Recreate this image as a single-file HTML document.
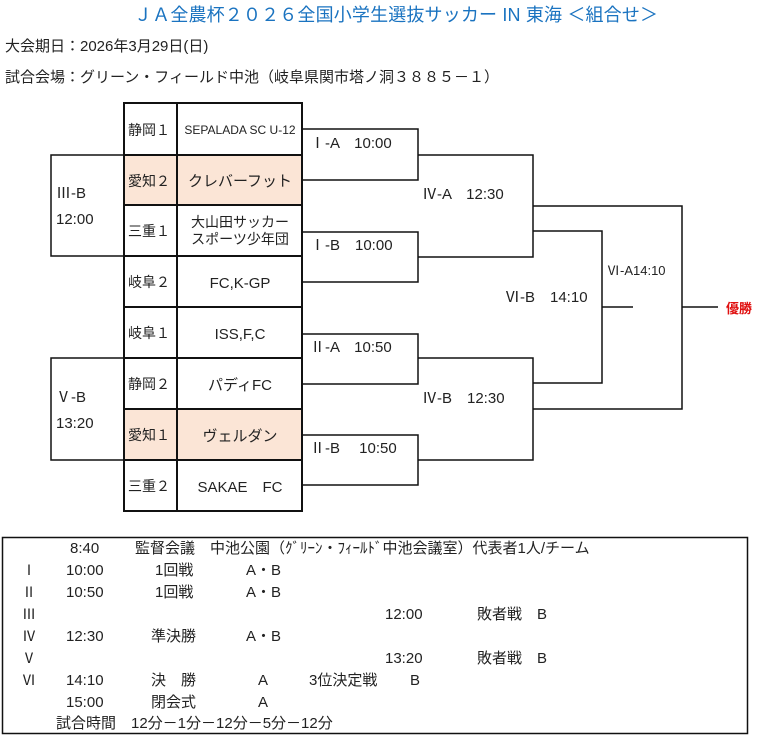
<!DOCTYPE html>
<html><head><meta charset="utf-8"><style>
body{margin:0;background:#fff;}
svg text{font-family:"Liberation Sans","Noto Sans CJK JP",sans-serif;}
</style></head><body>
<svg width="757" height="737" xmlns="http://www.w3.org/2000/svg">
<text x="134" y="21" font-size="18" fill="#1a73c0" textLength="524">ＪＡ全農杯２０２６全国小学生選抜サッカー IN 東海 ＜組合せ＞</text>
<text x="5" y="51" font-size="15" fill="#222">大会期日：2026年3月29日(日)</text>
<text x="5" y="82" font-size="15" fill="#222">試合会場：グリーン・フィールド中池（岐阜県関市塔ノ洞３８８５－１）</text>

<g stroke="#111" stroke-width="2" fill="none">
<rect x="124" y="155" width="178" height="50" fill="#fbe5d6" stroke="none"/>
<rect x="124" y="409" width="178" height="51" fill="#fbe5d6" stroke="none"/>
<rect x="124" y="103" width="178" height="408"/>
<line x1="177" y1="103" x2="177" y2="511"/>
<line x1="124" y1="155" x2="302" y2="155"/>
<line x1="124" y1="205" x2="302" y2="205"/>
<line x1="124" y1="256" x2="302" y2="256"/>
<line x1="124" y1="307" x2="302" y2="307"/>
<line x1="124" y1="358" x2="302" y2="358"/>
<line x1="124" y1="409" x2="302" y2="409"/>
<line x1="124" y1="460" x2="302" y2="460"/>
</g>
<g stroke="#111" stroke-width="1.5" fill="none">
<polyline points="124,155 51,155 51,256 124,256"/>
<polyline points="124,358 51,358 51,460 124,460"/>
<polyline points="302,129 418,129 418,180 302,180"/>
<polyline points="302,232 418,232 418,282 302,282"/>
<polyline points="302,334 418,334 418,384 302,384"/>
<polyline points="302,435 418,435 418,485 302,485"/>
<polyline points="418,155 533,155 533,257 418,257"/>
<polyline points="418,358 533,358 533,460 418,460"/>
<polyline points="533,206 682,206 682,409 533,409"/>
<polyline points="533,231 602,231 602,383 533,383"/>
<line x1="602" y1="307" x2="633" y2="307"/>
<line x1="682" y1="307" x2="718" y2="307"/>
</g>
<g font-size="14" fill="#222">
<text x="128" y="135">静岡１</text>
<text x="128" y="186">愛知２</text>
<text x="128" y="236">三重１</text>
<text x="128" y="287">岐阜２</text>
<text x="128" y="338">岐阜１</text>
<text x="128" y="389">静岡２</text>
<text x="128" y="440">愛知１</text>
<text x="128" y="491">三重２</text>
<text x="240" y="134" font-size="12" text-anchor="middle">SEPALADA SC U-12</text>
<text x="240" y="186" font-size="15" text-anchor="middle">クレバーフット</text>
<text x="240" y="227" text-anchor="middle">大山田サッカー</text>
<text x="240" y="244" text-anchor="middle">スポーツ少年団</text>
<text x="240" y="288" font-size="15" text-anchor="middle">FC,K-GP</text>
<text x="240" y="339" font-size="15" text-anchor="middle">ISS,F,C</text>
<text x="240" y="390" font-size="15" text-anchor="middle">パディFC</text>
<text x="240" y="441" font-size="15" text-anchor="middle">ヴェルダン</text>
<text x="240" y="492" font-size="15" text-anchor="middle">SAKAE　FC</text>
<g font-size="15">
<text x="56" y="198">Ⅲ-B</text>
<text x="56" y="224">12:00</text>
<text x="56" y="402">Ⅴ-B</text>
<text x="56" y="428">13:20</text>
<text x="310" y="148">Ⅰ-A　10:00</text>
<text x="310" y="250">Ⅰ-B　10:00</text>
<text x="310" y="352">Ⅱ-A　10:50</text>
<text x="310" y="453">Ⅱ-B　 10:50</text>
<text x="422" y="199">Ⅳ-A　12:30</text>
<text x="422" y="403">Ⅳ-B　12:30</text>
<text x="505" y="302">Ⅵ-B　14:10</text>
<text x="607" y="275" font-size="13">Ⅵ-A14:10</text>
</g>
<text x="726" y="313" font-size="13" fill="#e01010" font-weight="bold">優勝</text>
</g>
<rect x="2.5" y="537.5" width="745" height="196" fill="none" stroke="#111" stroke-width="1.5"/>
<g font-size="15" fill="#222">
<text x="70" y="553">8:40</text><text x="135" y="553">監督会議　中池公園（ｸﾞﾘｰﾝ・ﾌｨｰﾙﾄﾞ中池会議室）代表者1人/チーム</text>
<text x="22" y="575" font-size="14">Ⅰ</text><text x="66" y="575">10:00</text><text x="155" y="575">1回戦</text><text x="246" y="575">A・B</text>
<text x="22" y="597" font-size="14">Ⅱ</text><text x="66" y="597">10:50</text><text x="155" y="597">1回戦</text><text x="246" y="597">A・B</text>
<text x="22" y="619" font-size="14">Ⅲ</text><text x="385" y="619">12:00</text><text x="477" y="619">敗者戦　B</text>
<text x="22" y="641" font-size="14">Ⅳ</text><text x="66" y="641">12:30</text><text x="151" y="641">準決勝</text><text x="246" y="641">A・B</text>
<text x="22" y="663" font-size="14">Ⅴ</text><text x="385" y="663">13:20</text><text x="477" y="663">敗者戦　B</text>
<text x="22" y="685" font-size="14">Ⅵ</text><text x="66" y="685">14:10</text><text x="151" y="685">決　勝</text><text x="258" y="685">A</text><text x="309" y="685">3位決定戦</text><text x="410" y="685">B</text>
<text x="66" y="707">15:00</text><text x="151" y="707">閉会式</text><text x="258" y="707">A</text>
<text x="56" y="728">試合時間　12分－1分－12分－5分－12分</text>
</g>
</svg>
</body></html>
